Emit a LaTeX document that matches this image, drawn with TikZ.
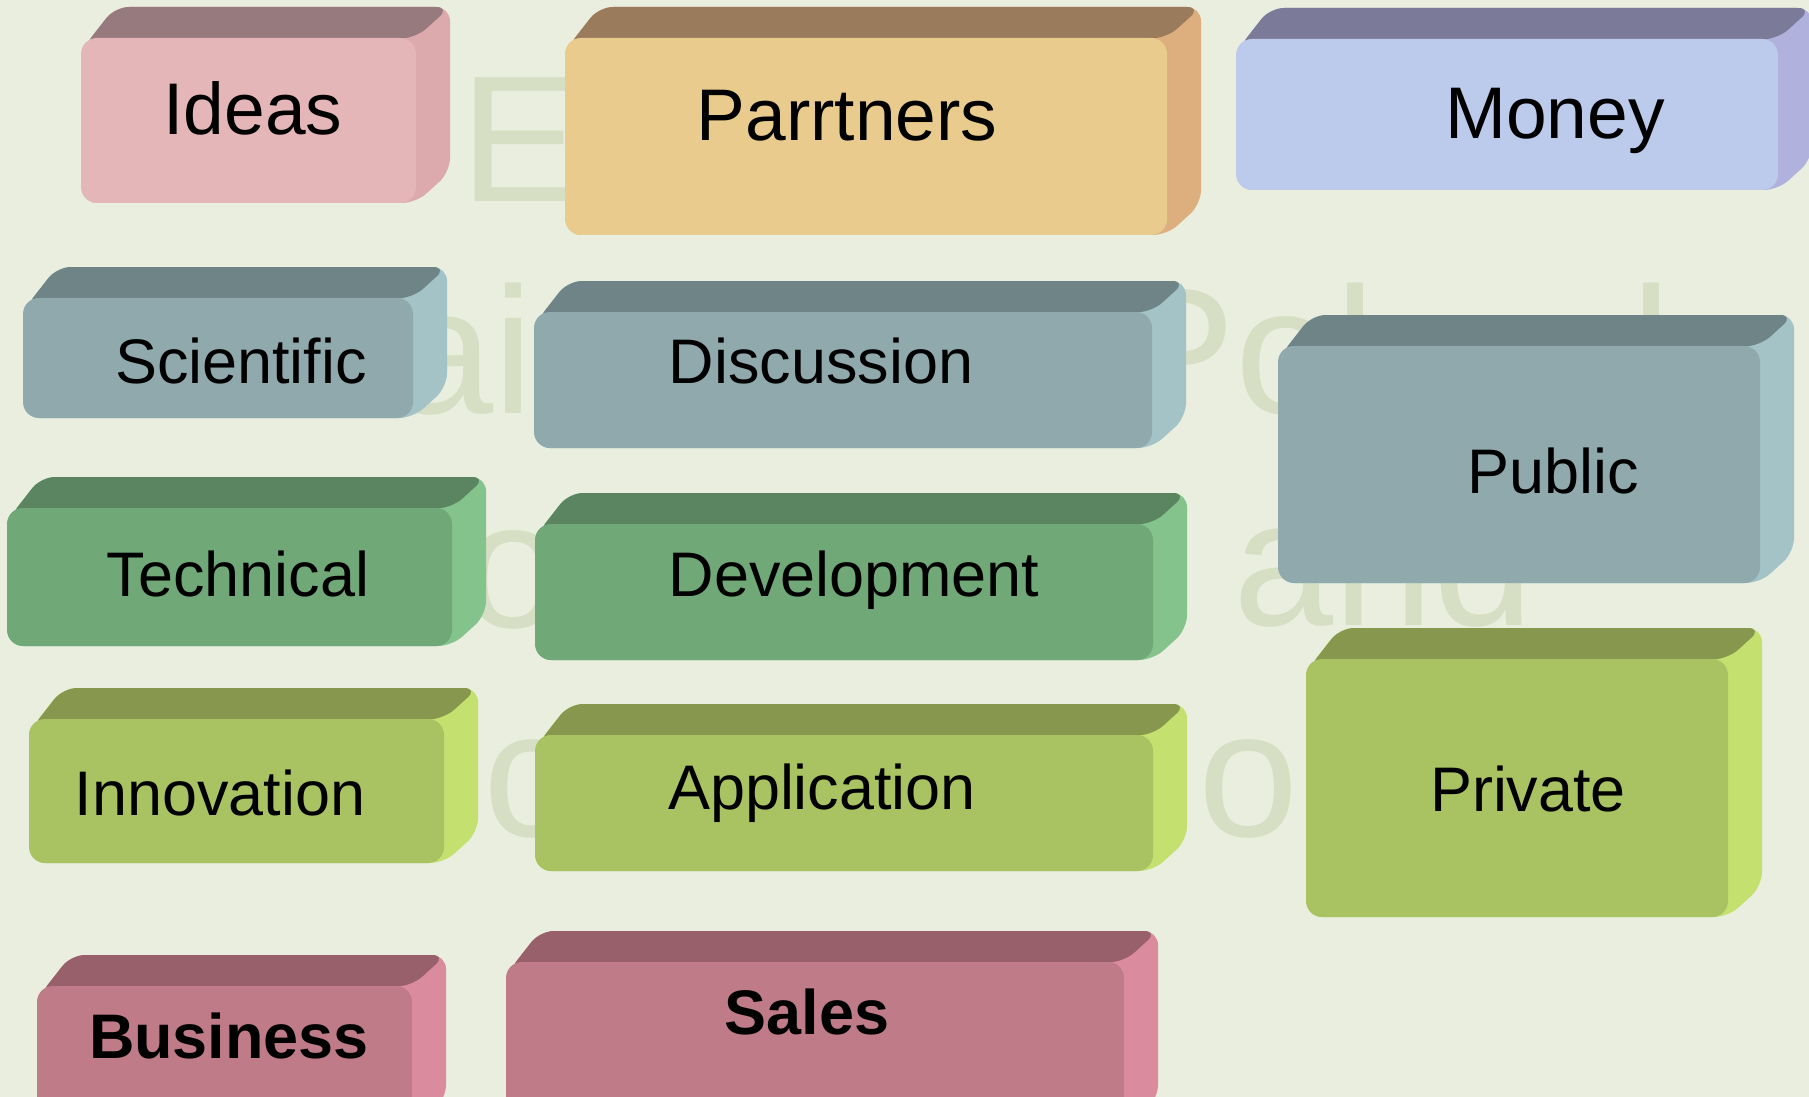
\documentclass[tikz,border=0pt]{standalone}
\usepackage{fontspec}
\setmainfont{Liberation Sans}

\definecolor{bgcol}{HTML}{E9EEDF}
\definecolor{wmcol}{HTML}{D6DFC3}
\definecolor{ideasfront}{HTML}{E4B6B8}
\definecolor{ideastop}{HTML}{967A7E}
\definecolor{ideasside}{HTML}{DCA9AD}
\definecolor{partfront}{HTML}{E9CB8E}
\definecolor{parttop}{HTML}{9A7C5C}
\definecolor{partside}{HTML}{DDAF7F}
\definecolor{moneyfront}{HTML}{BCCBEB}
\definecolor{moneytop}{HTML}{7B7B99}
\definecolor{moneyside}{HTML}{B1B1DE}
\definecolor{greyfront}{HTML}{8FA9AD}
\definecolor{greytop}{HTML}{6E8487}
\definecolor{greyside}{HTML}{A3C3C6}
\definecolor{greenfront}{HTML}{70A878}
\definecolor{greentop}{HTML}{5B8560}
\definecolor{greenside}{HTML}{84C38C}
\definecolor{limefront}{HTML}{A9C262}
\definecolor{limetop}{HTML}{87974D}
\definecolor{limeside}{HTML}{C4E06E}
\definecolor{rosefront}{HTML}{BF7C88}
\definecolor{rosetop}{HTML}{98606B}
\definecolor{roseside}{HTML}{DA8C9E}

\def \depthx {34}
\def \depthy {31}

\newcommand{\brick}[7]{%
\fill[#7, rounded corners=0.14cm] (#1+2,#4) -- (#1+2,#2+10) -- (#1+\depthx,#2-\depthy) -- (#3+\depthx,#2-\depthy) -- (#3+\depthx,#4-\depthy) -- (#3,#4) -- cycle;
\fill[#6, rounded corners=0.14cm] (#1+2,#2+10) -- (#1+\depthx,#2-\depthy) -- (#3+\depthx,#2-\depthy) -- (#3,#2) -- cycle;
\fill[#5, rounded corners=0.16cm] (#1,#2) rectangle (#3,#4);
}

\tikzset{
  bigtxt/.style={font=\fontsize{20.8}{25}\selectfont, anchor=base, inner sep=0pt},
  txt/.style={font=\fontsize{17.9}{21}\selectfont, anchor=base, inner sep=0pt},
  boldtxt/.style={font=\fontsize{17.9}{21}\selectfont\bfseries, anchor=base, inner sep=0pt},
  wmark/.style={text=wmcol, font=\fontsize{51.2}{60}\selectfont, anchor=base west, inner sep=0pt}
}

\begin{document}
\begin{tikzpicture}[x=0.01cm, y=-0.01cm]
\clip (0,0) rectangle (1809,1097);
\fill[bgcol] (0,0) rectangle (1809,1097);

% faint title behind the bricks
\node[wmark] (wmE) at (460,202) {E};
\node[wmark] (wmAi) at (393,413) {ai};
\node[wmark] (wmPol) at (1115,413) {Pol};
\node[wmark] (wmL) at (1631,413) {l};
\node[wmark] (wmO) at (463,627) {o};
\node[wmark] (wmAn) at (1233,625) {an};
\node[wmark] (wmD) at (1433,625) {d};
\node[wmark] (wmC) at (483,836) {c};
\node[wmark] (wmOo) at (1198,836) {o};

\brick{81}{38}{416}{203}{ideasfront}{ideastop}{ideasside}
\brick{565}{38}{1167}{235}{partfront}{parttop}{partside}
\brick{1236}{39}{1778}{190}{moneyfront}{moneytop}{moneyside}
\brick{23}{298}{413}{418}{greyfront}{greytop}{greyside}
\brick{534}{312}{1152}{448}{greyfront}{greytop}{greyside}
\brick{1278}{346}{1760}{583}{greyfront}{greytop}{greyside}
\brick{7}{508}{452}{646}{greenfront}{greentop}{greenside}
\brick{535}{524}{1153}{660}{greenfront}{greentop}{greenside}
\brick{29}{719}{444}{863}{limefront}{limetop}{limeside}
\brick{535}{735}{1153}{871}{limefront}{limetop}{limeside}
\brick{1306}{659}{1728}{917}{limefront}{limetop}{limeside}
\brick{37}{986}{412}{1130}{rosefront}{rosetop}{roseside}
\brick{506}{962}{1124}{1130}{rosefront}{rosetop}{roseside}

\node[bigtxt] (ideas) at (253,135) {Ideas};
\node[bigtxt] (partners) at (847,141) {Parrtners};
\node[bigtxt] (money) at (1555,139) {Money};
\node[txt] (scientific) at (241,383) {Scientific};
\node[txt] (discussion) at (821,383) {Discussion};
\node[txt] (public) at (1553,493) {Public};
\node[txt] (technical) at (238,596) {Technical};
\node[txt] (development) at (854,596) {Development};
\node[txt] (innovation) at (220,815) {Innovation};
\node[txt] (application) at (822,809) {Application};
\node[txt] (private) at (1528,811) {Private};
\node[boldtxt] (business) at (229,1058) {Business};
\node[boldtxt] (sales) at (807,1034) {Sales};
\end{tikzpicture}
\end{document}
